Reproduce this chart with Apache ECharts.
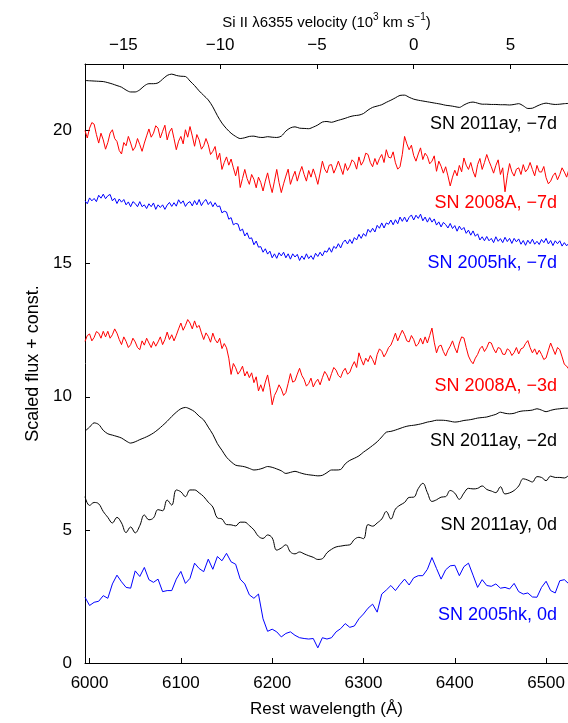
<!DOCTYPE html>
<html>
<head>
<meta charset="utf-8">
<script src="https://cdn.jsdelivr.net/npm/echarts@6/dist/echarts.min.js"></script>
<style>
  html, body { margin: 0; padding: 0; background: #fff; }
  #chart { width: 568px; height: 723px; }
</style>
</head>
<body>
<div id="chart"></div>
<script>
// Si II 6355 rest wavelength and speed of light (10^3 km/s), for the top axis
const LAMBDA0 = 6355;
const C_KMS = 299.792;

// wavelength window (Angstrom)
const wlMin = 5995;
const wlMax = 6524;

// tick labels
const wlTicks = [6000, 6100, 6200, 6300, 6400, 6500];
const velTicks = [-15, -10, -5, 0, 5];
const fluxTicks = [0, 5, 10, 15, 20];

// spectra; all start at 5995 A, step given per array
const step5 = 5;
const step2 = 2.5;

// SN 2011ay, -7d (step 5)
const sn2011ayM7 = [
  21.88, 21.87, 21.86, 21.85, 21.84, 21.80, 21.75, 21.69, 21.63, 21.52,
  21.45, 21.45, 21.53, 21.68, 21.76, 21.76, 21.79, 21.93, 22.07, 22.12,
  22.07, 22.04, 22.03, 21.86, 21.69, 21.49, 21.32, 21.15, 20.89, 20.56,
  20.28, 20.07, 19.90, 19.78, 19.70, 19.73, 19.78, 19.79, 19.75, 19.74,
  19.77, 19.75, 19.74, 19.79, 19.98, 20.10, 20.14, 20.09, 20.08, 20.07,
  20.13, 20.21, 20.32, 20.34, 20.31, 20.36, 20.41, 20.46, 20.52, 20.56,
  20.58, 20.64, 20.77, 20.87, 20.92, 20.97, 21.06, 21.14, 21.23, 21.32,
  21.33, 21.25, 21.18, 21.14, 21.11, 21.08, 21.05, 21.02, 20.99, 20.95,
  20.93, 20.90, 20.87, 20.96, 21.04, 21.07, 21.03, 20.99, 20.99, 20.98,
  20.98, 20.97, 20.97, 20.96, 20.98, 21.01, 20.93, 20.83, 20.84, 20.92,
  20.99, 21.03, 21.00, 20.98, 20.99, 21.01, 21.02
];

// SN 2008A, -7d (step 2.5)
const sn2008aM7 = [
  20.00, 19.72, 20.09, 20.30, 20.24, 19.85, 19.53, 19.90, 19.65, 19.30,
  19.55, 19.90, 20.03, 19.70, 19.59, 19.25, 19.12, 19.55, 19.43, 19.78,
  19.53, 19.25, 19.38, 19.70, 19.47, 19.22, 19.53, 19.80, 20.06, 19.75,
  19.90, 20.18, 20.09, 19.72, 19.97, 20.20, 19.65, 19.95, 20.09, 19.70,
  19.28, 19.60, 19.78, 19.50, 20.03, 19.75, 20.15, 19.80, 19.41, 19.85,
  19.65, 19.30, 19.43, 19.70, 19.47, 19.10, 19.22, 19.40, 18.91, 19.15,
  18.54, 18.80, 19.01, 18.70, 18.93, 18.60, 18.30, 18.65, 17.86, 18.20,
  18.54, 18.20, 17.98, 18.35, 18.17, 17.85, 18.25, 18.05, 17.73, 18.10,
  18.41, 18.00, 17.67, 18.10, 18.54, 18.05, 17.67, 18.00, 18.29, 18.55,
  17.98, 18.25, 18.47, 18.10, 18.41, 18.65, 18.35, 18.10, 18.50, 18.25,
  18.56, 18.30, 17.98, 18.40, 18.85, 18.55, 18.41, 18.70, 18.72, 18.40,
  18.60, 18.85, 18.60, 18.35, 18.76, 18.50, 18.66, 18.90, 18.81, 18.55,
  19.01, 18.70, 18.85, 19.15, 19.10, 18.80, 18.64, 18.95, 18.72, 18.95,
  19.10, 18.80, 19.28, 19.00, 18.97, 19.20, 18.79, 18.55, 18.64, 19.10,
  19.78, 19.50, 19.28, 19.45, 19.06, 18.85, 19.12, 19.35, 18.91, 19.15,
  19.03, 18.75, 18.85, 19.05, 18.47, 18.85, 18.66, 18.40, 18.64, 18.30,
  17.92, 18.25, 18.51, 18.30, 18.69, 18.45, 18.97, 18.70, 18.54, 18.80,
  18.47, 18.25, 18.72, 18.95, 18.54, 18.80, 19.10, 18.85, 18.64, 18.40,
  18.69, 18.90, 18.35, 18.60, 17.70, 18.30, 18.76, 18.45, 18.29, 18.55,
  18.60, 18.35, 18.72, 18.45, 18.56, 18.80, 18.54, 18.30, 18.69, 18.45,
  18.44, 18.65, 18.23, 18.00, 18.10, 18.30, 18.41, 18.15, 18.35, 18.60,
  18.44, 18.25, 18.54
];

// SN 2005hk, -7d (step 2.5)
const sn2005hkM7 = [
  17.36, 17.25, 17.47, 17.36, 17.45, 17.33, 17.57, 17.46,
  17.61, 17.44, 17.55, 17.60, 17.36, 17.46, 17.26, 17.43,
  17.31, 17.41, 17.21, 17.32, 17.14, 17.33, 17.26, 17.14,
  17.33, 17.14, 17.21, 17.07, 17.25, 17.14, 17.28, 17.04,
  17.21, 17.11, 17.21, 17.04, 17.20, 17.30, 17.15, 17.29,
  17.16, 17.40, 17.26, 17.36, 17.15, 17.28, 17.33, 17.17,
  17.37, 17.21, 17.41, 17.18, 17.33, 17.41, 17.22, 17.33,
  17.14, 17.29, 17.14, 17.17, 16.91, 16.97, 16.94, 16.67,
  16.73, 16.46, 16.51, 16.49, 16.23, 16.30, 16.04, 16.16,
  15.94, 15.97, 15.71, 15.85, 15.62, 15.64, 15.43, 15.56,
  15.36, 15.47, 15.22, 15.37, 15.20, 15.41, 15.29, 15.43,
  15.22, 15.37, 15.17, 15.37, 15.25, 15.35, 15.12, 15.29,
  15.16, 15.37, 15.19, 15.30, 15.16, 15.39, 15.27, 15.43,
  15.29, 15.48, 15.43, 15.60, 15.43, 15.65, 15.57, 15.75,
  15.59, 15.79, 15.89, 15.74, 15.91, 15.76, 15.98, 15.89,
  16.10, 15.95, 16.13, 16.03, 16.29, 16.18, 16.33, 16.19,
  16.44, 16.33, 16.53, 16.34, 16.53, 16.48, 16.64, 16.46,
  16.65, 16.50, 16.75, 16.59, 16.75, 16.57, 16.74, 16.83,
  16.64, 16.82, 16.70, 16.86, 16.61, 16.75, 16.56, 16.73,
  16.56, 16.68, 16.45, 16.57, 16.38, 16.55, 16.47, 16.34,
  16.51, 16.32, 16.43, 16.22, 16.41, 16.27, 16.36, 16.14,
  16.26, 16.07, 16.23, 16.03, 16.12, 15.89, 16.01, 15.86,
  16.02, 15.86, 15.95, 15.79, 16.01, 15.84, 15.94, 15.79,
  15.99, 15.83, 15.95, 15.76, 15.95, 15.82, 15.93, 15.73,
  15.87, 15.69, 15.88, 15.75, 15.92, 15.73, 15.84, 15.72,
  15.91, 15.79, 15.95, 15.74, 15.87, 15.68, 15.86, 15.75,
  15.86, 15.66, 15.79, 15.67, 15.77
];

// SN 2008A, -3d (step 2.5)
const sn2008aM3 = [
  12.08, 12.30, 12.36, 12.10, 12.23, 12.45, 12.39, 12.20, 12.46, 12.25,
  12.46, 12.20, 12.33, 12.55, 12.39, 12.15, 11.96, 12.25, 12.08, 11.85,
  11.96, 12.20, 12.06, 11.85, 11.77, 12.10, 11.94, 12.20, 12.02, 11.85,
  12.08, 11.90, 12.06, 12.25, 11.96, 12.15, 12.43, 12.15, 12.33, 12.10,
  12.31, 12.55, 12.77, 12.50, 12.68, 12.90, 12.77, 12.55, 12.85, 12.60,
  12.68, 12.40, 12.15, 12.40, 12.27, 12.05, 12.39, 12.15, 12.02, 12.20,
  11.81, 12.00, 11.84, 11.45, 10.84, 11.25, 11.09, 10.85, 10.97, 11.15,
  10.78, 10.95, 10.72, 10.90, 10.53, 10.75, 10.22, 10.45, 10.20, 10.55,
  10.82, 10.35, 9.70, 10.05, 10.22, 10.45, 10.29, 10.05, 10.16, 10.50,
  10.87, 10.55, 10.60, 10.85, 11.07, 10.80, 10.65, 10.40, 10.50, 10.70,
  10.37, 10.55, 10.66, 10.45, 10.72, 10.95, 10.82, 10.60, 10.87, 11.10,
  11.00, 10.80, 10.72, 10.95, 11.07, 10.85, 10.92, 11.15, 11.32, 11.10,
  11.65, 11.40, 11.19, 11.45, 11.32, 11.55, 11.40, 11.20, 11.59, 11.80,
  11.71, 11.50, 11.65, 11.85, 11.94, 12.15, 12.39, 12.10, 12.31, 12.50,
  12.33, 12.10, 12.06, 12.30, 12.15, 11.90, 11.98, 12.20, 11.98, 12.25,
  12.02, 12.30, 12.58, 12.05, 11.65, 11.90, 11.94, 11.70, 11.53, 11.75,
  11.90, 12.10, 11.84, 11.65, 12.02, 12.25, 12.21, 11.85, 11.53, 11.35,
  11.24, 11.45, 11.59, 11.80, 11.90, 11.70, 11.84, 12.05, 12.02, 11.80,
  11.65, 11.85, 11.81, 11.60, 11.59, 11.80, 11.74, 11.55, 11.66, 11.85,
  11.61, 11.80, 11.84, 12.00, 12.11, 11.85, 11.65, 11.80, 11.59, 11.75,
  11.59, 11.40, 11.46, 11.75, 12.02, 11.80, 11.59, 11.85, 11.77, 11.50,
  11.22, 11.15, 11.03
];

// SN 2011ay, -2d (step 5)
const sn2011ayM2 = [
  8.71, 8.86, 9.02, 8.96, 8.74, 8.61, 8.56, 8.51, 8.45, 8.34,
  8.26, 8.31, 8.39, 8.46, 8.54, 8.64, 8.77, 8.92, 9.08, 9.26,
  9.42, 9.55, 9.60, 9.54, 9.44, 9.27, 9.13, 8.86, 8.59, 8.24,
  7.99, 7.73, 7.56, 7.43, 7.40, 7.37, 7.31, 7.25, 7.27, 7.32,
  7.38, 7.35, 7.29, 7.22, 7.12, 7.16, 7.20, 7.15, 7.10, 7.07,
  7.05, 7.03, 7.05, 7.15, 7.25, 7.25, 7.27, 7.48, 7.61, 7.69,
  7.78, 7.92, 8.04, 8.17, 8.31, 8.49, 8.67, 8.70, 8.75, 8.81,
  8.87, 8.91, 8.93, 8.96, 9.00, 9.05, 9.08, 9.12, 9.12, 9.11,
  9.08, 9.05, 9.07, 9.11, 9.13, 9.16, 9.20, 9.22, 9.24, 9.29,
  9.34, 9.42, 9.38, 9.36, 9.38, 9.44, 9.47, 9.48, 9.50, 9.55,
  9.50, 9.44, 9.49, 9.53, 9.55, 9.57, 9.57
];

// SN 2011ay, 0d (step 5)
const sn2011ay0 = [
  6.25, 5.92, 6.03, 5.98, 5.69, 5.47, 5.26, 5.47, 5.26, 4.90,
  5.11, 4.89, 5.16, 5.56, 5.38, 5.45, 5.76, 5.72, 6.12, 5.93,
  6.50, 6.43, 6.25, 6.50, 6.50, 6.39, 6.25, 6.04, 5.86, 5.45,
  5.41, 5.20, 5.19, 5.15, 5.29, 5.29, 5.16, 5.00, 4.76, 4.68,
  4.81, 4.70, 4.24, 4.32, 4.44, 4.17, 4.10, 4.17, 4.10, 4.03,
  3.97, 3.89, 3.92, 4.14, 4.27, 4.36, 4.39, 4.42, 4.44, 4.64,
  4.72, 4.67, 5.20, 5.14, 5.26, 5.41, 5.69, 5.41, 5.78, 5.93,
  6.03, 6.22, 6.23, 6.55, 6.75, 6.40, 6.07, 6.13, 6.23, 6.25,
  6.48, 6.38, 6.15, 6.38, 6.56, 6.54, 6.56, 6.65, 6.52, 6.46,
  6.40, 6.62, 6.35, 6.39, 6.48, 6.65, 6.92, 6.87, 6.80, 7.00,
  6.97, 6.85, 7.02, 6.97, 6.97, 6.95, 7.06
];

// SN 2005hk, 0d (step 5)
const sn2005hk0 = [
  2.47, 2.16, 2.28, 2.32, 2.53, 2.43, 2.97, 3.30, 3.05, 2.84,
  2.81, 3.46, 3.25, 3.59, 3.13, 3.03, 3.15, 2.68, 2.72, 2.72,
  3.15, 3.44, 2.99, 3.18, 3.75, 3.55, 3.43, 3.90, 3.52, 4.00,
  3.84, 4.12, 3.80, 3.71, 3.15, 2.97, 2.56, 2.43, 2.59, 1.66,
  1.19, 1.27, 1.17, 0.98, 1.11, 1.17, 1.04, 0.95, 0.92, 0.90,
  0.92, 0.57, 0.95, 0.90, 0.95, 1.17, 1.29, 1.48, 1.34, 1.39,
  1.66, 1.84, 2.06, 2.21, 1.91, 2.59, 2.74, 2.91, 2.72, 2.95,
  3.15, 2.93, 3.20, 3.28, 3.28, 3.52, 3.96, 3.55, 3.15, 3.50,
  3.65, 3.67, 3.28, 3.62, 3.75, 3.30, 2.84, 3.13, 2.91, 2.88,
  2.97, 2.81, 2.84, 2.78, 2.99, 2.68, 2.59, 2.63, 2.48, 2.47,
  2.84, 3.07, 2.72, 2.63, 3.09, 3.13, 2.97
];

const labelNames = [
  'SN 2011ay, \u22127d', 'SN 2008A, \u22127d', 'SN 2005hk, \u22127d',
  'SN 2008A, \u22123d', 'SN 2011ay, \u22122d', 'SN 2011ay, 0d', 'SN 2005hk, 0d'
];

const FONT = '"Liberation Sans", Arial, Helvetica, sans-serif';
const BLACK = '#000000', RED = '#ff0000', BLUE = '#0000ff';

function pairs(vals, step) {
  return vals.map((v, i) => [wlMin + i * step, v]);
}
function vel(wl) {
  return (wl / LAMBDA0 - 1) * C_KMS;
}
function minus(v) {
  return String(v).replace('-', '\u2212');
}

const spectra = [
  { vals: sn2011ayM7, step: step5, color: BLACK, smooth: 0.3 },
  { vals: sn2008aM7, step: step2, color: RED, smooth: false },
  { vals: sn2005hkM7, step: step2, color: BLUE, smooth: false },
  { vals: sn2008aM3, step: step2, color: RED, smooth: false },
  { vals: sn2011ayM2, step: step5, color: BLACK, smooth: 0.3 },
  { vals: sn2011ay0, step: step5, color: BLACK, smooth: 0.4 },
  { vals: sn2005hk0, step: step5, color: BLUE, smooth: false }
];

// label text centres (px) for the right-hand annotations
const labelY = [126, 205, 265, 388, 443, 527, 617];

const axisLineStyle = { color: '#000', width: 1 };

const option = {
  animation: false,
  backgroundColor: '#fff',
  grid: { left: 85, right: -2, top: 64, bottom: 55, containLabel: false },
  xAxis: [
    {
      type: 'value', position: 'bottom', min: wlMin, max: wlMax,
      name: 'Rest wavelength (\u00c5)', nameLocation: 'middle', nameGap: 38,
      nameTextStyle: { fontFamily: FONT, fontSize: 17, color: '#000' },
      axisLine: { show: true, onZero: false, lineStyle: axisLineStyle },
      axisTick: { show: true, inside: true, length: 5, customValues: wlTicks, lineStyle: axisLineStyle },
      axisLabel: { customValues: wlTicks, margin: 12, fontFamily: FONT, fontSize: 17, color: '#000',
        formatter: v => String(v) },
      splitLine: { show: false }
    },
    {
      type: 'value', position: 'top', min: vel(wlMin), max: vel(wlMax),
      name: '{a|Si II \u03bb6355 velocity (10}{s|3}{a| km s}{s|\u22121}{a|)}',
      nameLocation: 'middle', nameGap: 34,
      nameTextStyle: {
        fontFamily: FONT, color: '#000',
        rich: {
          a: { fontFamily: FONT, fontSize: 15, color: '#000', lineHeight: 18, verticalAlign: 'bottom' },
          s: { fontFamily: FONT, fontSize: 10, color: '#000', lineHeight: 10, verticalAlign: 'top' }
        }
      },
      axisLine: { show: true, onZero: false, lineStyle: axisLineStyle },
      axisTick: { show: true, inside: true, length: 5, customValues: velTicks, lineStyle: axisLineStyle },
      axisLabel: { customValues: velTicks, margin: 10, fontFamily: FONT, fontSize: 17, color: '#000',
        formatter: v => minus(v) },
      splitLine: { show: false }
    }
  ],
  yAxis: {
    type: 'value', min: 0, max: 22.5,
    name: 'Scaled flux + const.', nameLocation: 'middle', nameGap: 33,
    nameTextStyle: { fontFamily: FONT, fontSize: 18, color: '#000' },
    axisLine: { show: true, onZero: false, lineStyle: axisLineStyle },
    axisTick: { show: true, inside: true, length: 5, customValues: fluxTicks, lineStyle: axisLineStyle },
    axisLabel: { customValues: fluxTicks, margin: 13, fontFamily: FONT, fontSize: 17, color: '#000' },
    splitLine: { show: false }
  },
  series: spectra.map(s => ({
    type: 'line',
    xAxisIndex: 0,
    data: pairs(s.vals, s.step),
    showSymbol: false,
    symbol: 'none',
    smooth: s.smooth,
    lineStyle: { color: s.color, width: 1 },
    itemStyle: { color: s.color },
    clip: true,
    silent: true
  })),
  graphic: labelNames.map((t, i) => ({
    type: 'text',
    right: 11,
    top: labelY[i] - 11,
    style: { text: t, fontFamily: FONT, fontSize: 18, fill: spectra[i].color }
  }))
};

const chart = echarts.init(document.getElementById('chart'), null, { renderer: 'canvas' });
chart.setOption(option);
</script>
</body>
</html>
